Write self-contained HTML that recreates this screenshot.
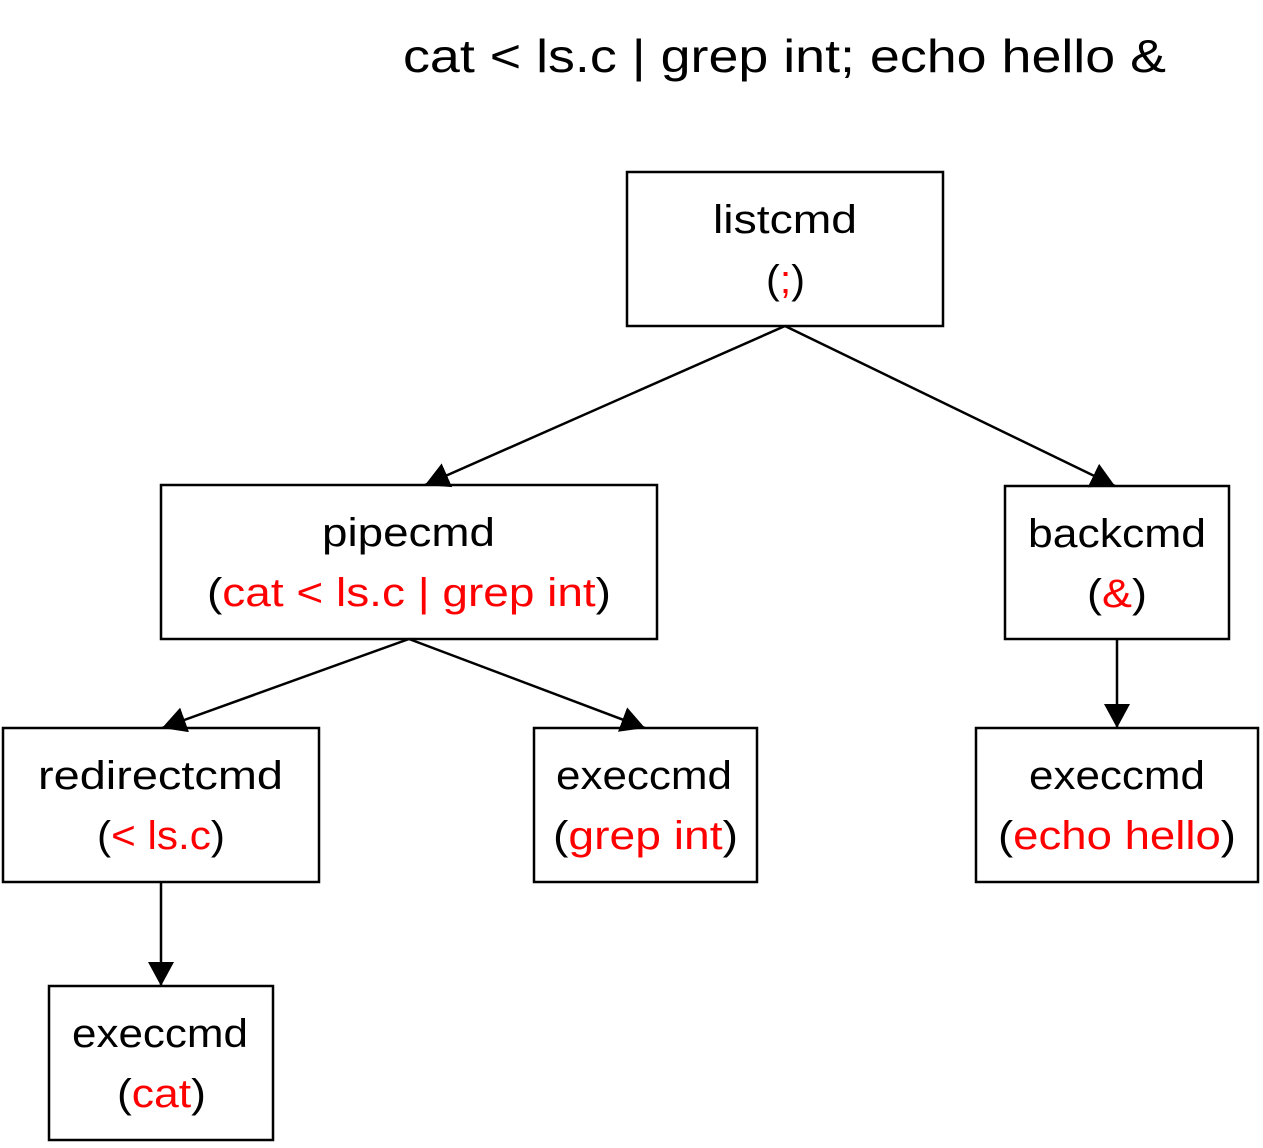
<!DOCTYPE html>
<html><head><meta charset="utf-8"><style>
html,body{margin:0;padding:0;background:#fff;}
svg{display:block;}
text{font-family:"Liberation Sans",sans-serif;font-size:40px;fill:#000;}
.r{fill:#f00;}
</style></head><body>
<svg width="1263" height="1148" viewBox="0 0 1263 1148" xmlns="http://www.w3.org/2000/svg">
<defs>
<marker id="a" viewBox="0 0 24 26" refX="24" refY="13" markerWidth="24" markerHeight="26" markerUnits="userSpaceOnUse" orient="auto">
<path d="M0,0 L24,13 L0,26 z" fill="#000"/>
</marker>
</defs>
<text x="403" y="72" style="font-size:46px" textLength="763" lengthAdjust="spacingAndGlyphs">cat &lt; ls.c | grep int; echo hello &amp;</text>
<g fill="none" stroke="#000" stroke-width="2.5">
<rect x="627" y="172" width="316" height="154"/>
<rect x="161" y="485" width="496" height="154"/>
<rect x="1005" y="486" width="224" height="153"/>
<rect x="3" y="728" width="316" height="154"/>
<rect x="534" y="728" width="223" height="154"/>
<rect x="976" y="728" width="282" height="154"/>
<rect x="49" y="986" width="224" height="154"/>
<line x1="785" y1="326" x2="425" y2="485" marker-end="url(#a)"/>
<line x1="785" y1="326" x2="1115" y2="486" marker-end="url(#a)"/>
<line x1="409" y1="639" x2="162" y2="728" marker-end="url(#a)"/>
<line x1="409" y1="639" x2="645" y2="728" marker-end="url(#a)"/>
<line x1="1117" y1="639" x2="1117" y2="728" marker-end="url(#a)"/>
<line x1="161" y1="882" x2="161" y2="986" marker-end="url(#a)"/>
</g>
<text x="713" y="233" textLength="144" lengthAdjust="spacingAndGlyphs">listcmd</text>
<text x="766" y="293" textLength="39" lengthAdjust="spacingAndGlyphs">(<tspan class="r">;</tspan>)</text>
<text x="322" y="546" textLength="173" lengthAdjust="spacingAndGlyphs">pipecmd</text>
<text x="207" y="606" textLength="404" lengthAdjust="spacingAndGlyphs">(<tspan class="r">cat &lt; ls.c | grep int</tspan>)</text>
<text x="1028" y="547" textLength="178" lengthAdjust="spacingAndGlyphs">backcmd</text>
<text x="1087" y="607" textLength="60" lengthAdjust="spacingAndGlyphs">(<tspan class="r">&amp;</tspan>)</text>
<text x="38" y="789" textLength="245" lengthAdjust="spacingAndGlyphs">redirectcmd</text>
<text x="97" y="849" textLength="128" lengthAdjust="spacingAndGlyphs">(<tspan class="r">&lt; ls.c</tspan>)</text>
<text x="556" y="789" textLength="176" lengthAdjust="spacingAndGlyphs">execcmd</text>
<text x="553" y="849" textLength="185" lengthAdjust="spacingAndGlyphs">(<tspan class="r">grep int</tspan>)</text>
<text x="1029" y="789" textLength="176" lengthAdjust="spacingAndGlyphs">execcmd</text>
<text x="998" y="849" textLength="238" lengthAdjust="spacingAndGlyphs">(<tspan class="r">echo hello</tspan>)</text>
<text x="72" y="1047" textLength="176" lengthAdjust="spacingAndGlyphs">execcmd</text>
<text x="117" y="1107" textLength="89" lengthAdjust="spacingAndGlyphs">(<tspan class="r">cat</tspan>)</text>
</svg>
</body></html>
